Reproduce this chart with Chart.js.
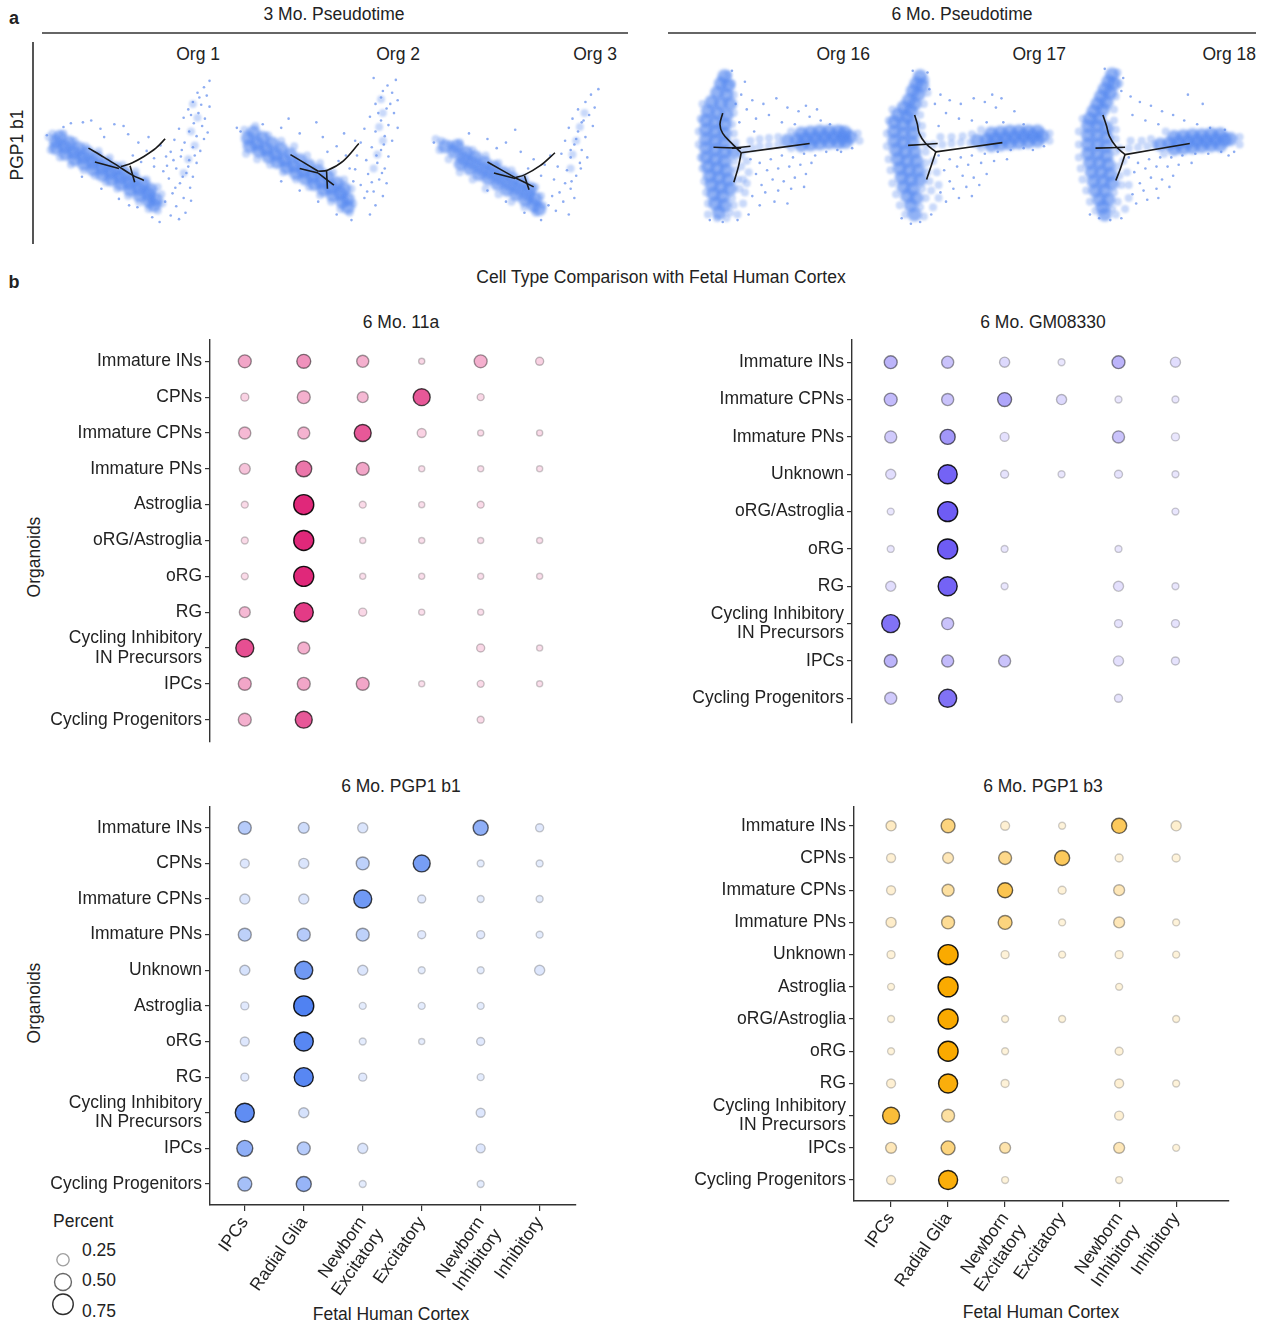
<!DOCTYPE html>
<html lang="en">
<head>
  <meta charset="UTF-8">
  <title>Pseudotime and cell type comparison</title>
  <script src="https://cdn.jsdelivr.net/npm/chart.js"></script>
  <style>
    body { margin: 0; background: #fff; font-family: "Liberation Sans", Arial, sans-serif; color: #222; }
    #page { position: relative; width: 1277px; height: 1327px; overflow: hidden; }
    canvas { position: absolute; }
    .t { position: absolute; font-size: 17.5px; white-space: nowrap; line-height: 1; }
    .c { transform: translate(-50%, -50%); }
    .r { transform: translate(-100%, -50%); }
    .l { transform: translate(0, -50%); }
    .rot { transform: translate(-50%, -50%) rotate(-90deg); }
    .bold { font-weight: bold; font-size: 18px; }
    .rule { position: absolute; background: #666; }
  </style>
</head>
<body>
<div id="page">
  <div class="t c bold" style="left:14px;top:18px">a</div>
  <div class="t c" style="left:334px;top:15px">3 Mo. Pseudotime</div>
  <div class="t c" style="left:962px;top:15px">6 Mo. Pseudotime</div>
  <div class="rule" style="left:42px;top:32px;width:586px;height:2px"></div>
  <div class="rule" style="left:668px;top:32px;width:588px;height:2px"></div>
  <div class="rule" style="left:32px;top:42px;width:1.5px;height:202px;background:#555"></div>
  <div class="t rot" style="left:18px;top:145px">PGP1 b1</div>
  <div class="t r" style="left:220px;top:55px">Org 1</div>
  <div class="t r" style="left:420px;top:55px">Org 2</div>
  <div class="t r" style="left:617px;top:55px">Org 3</div>
  <div class="t r" style="left:870px;top:55px">Org 16</div>
  <div class="t r" style="left:1066px;top:55px">Org 17</div>
  <div class="t r" style="left:1256px;top:55px">Org 18</div>

  <canvas id="org1" width="185" height="180" style="left:38px;top:60px"></canvas>
  <canvas id="org2" width="185" height="180" style="left:228px;top:60px"></canvas>
  <canvas id="org3" width="185" height="180" style="left:425px;top:60px"></canvas>
  <canvas id="org16" width="185" height="180" style="left:688px;top:60px"></canvas>
  <canvas id="org17" width="185" height="180" style="left:878px;top:60px"></canvas>
  <canvas id="org18" width="185" height="180" style="left:1070px;top:60px"></canvas>

  <div class="t c bold" style="left:14px;top:282px">b</div>
  <div class="t c" style="left:661px;top:278px">Cell Type Comparison with Fetal Human Cortex</div>
  <div class="t c" style="left:401px;top:323px">6 Mo. 11a</div>
  <div class="t c" style="left:1043px;top:323px">6 Mo. GM08330</div>
  <div class="t c" style="left:401px;top:787px">6 Mo. PGP1 b1</div>
  <div class="t c" style="left:1043px;top:787px">6 Mo. PGP1 b3</div>
  <div class="t rot" style="left:35px;top:557px">Organoids</div>
  <div class="t rot" style="left:35px;top:1003px">Organoids</div>
  <div class="t c" style="left:391px;top:1315px">Fetal Human Cortex</div>
  <div class="t c" style="left:1041px;top:1313px">Fetal Human Cortex</div>
  <div class="t l" style="left:53px;top:1222px">Percent</div>
  <div class="t l" style="left:82px;top:1251px">0.25</div>
  <div class="t l" style="left:82px;top:1281px">0.50</div>
  <div class="t l" style="left:82px;top:1312px">0.75</div>

  <!-- canvases are a little taller than the plot area: the y axis keeps room for half a label above and below -->
  <canvas id="dot11a" width="587" height="427" style="left:0px;top:327px"></canvas>
  <canvas id="dotGM" width="581" height="408" style="left:640px;top:327px"></canvas>
  <canvas id="dotB1" width="587" height="506" style="left:0px;top:794px"></canvas>
  <canvas id="dotB3" width="600" height="502" style="left:640px;top:794px"></canvas>
  <canvas id="sizeLegend" width="40" height="90" style="left:43px;top:1237px"></canvas>
</div>

<script>
// ---- panel a: cell embeddings per organoid (dense core / edge / sparse cells) and trajectory branches
const org1Core = [[12,81],[22,87],[32,93],[42,98],[52,104],[62,110],[72,115],[82,120],[92,126],[102,132],[112,138],[120,144],
  [16,76],[26,82],[36,88],[46,93],[56,99],[66,105],[76,110],[86,115],[96,121],[106,127],[114,133],
  [12,88],[22,94],[32,100],[42,105],[52,111],[62,117],[72,122],[82,127],[92,133],[102,139],[112,145],[118,150]];
const org1Halo = [[4,76],[8,72],[20,72],[32,80],[44,86],[58,91],[70,98],[84,106],[98,113],[110,122],[122,130],[126,138],
  [6,90],[16,98],[28,106],[42,112],[54,118],[66,125],[78,132],[90,140],[102,147],[112,154],[122,156],[127,148],
  [160,40],[165,55],[158,70],[162,85],[155,100],[150,115]];
const org1Sparse = [[178,15],[172,22],[165,28],[175,31],[160,38],[169,41],[178,43],[155,46],[166,50],[173,56],[150,55],[161,61],
  [170,64],[145,67],[156,70],[164,75],[176,71],[140,79],[151,82],[160,87],[168,91],[136,92],[147,97],[156,101],[164,104],
  [132,107],[142,110],[153,115],[160,119],[134,121],[146,126],[157,131],[138,137],[150,142],[142,151],[152,158],[145,165],
  [136,161],[130,146],[128,113],[20,65],[41,60],[60,67],[75,62],[90,73],[101,82],[110,91],[118,99],[125,85],[112,76],[95,96],
  [131,97],[85,64],[50,58],[28,61],[64,76],[104,103],[118,108],[2,74],[40,119],[61,132],[80,143],[100,152],[116,163],[124,168],
  [91,150],[167,33],[158,52],[172,78],[148,90],[162,96],[139,101],[155,108],[149,119],[141,131],[158,145]];
const org1Branches = [
  [[47,88],[64,98],[80,108]],
  [[54,103],[80,110]],
  [[80,108],[94,117],[107,123]],
  [[82,108],[94,104],[107,97],[120,88],[130,78]],
  [[92,107],[97,125]]
];

const org2Core = [[14,77],[24,83],[34,89],[44,95],[54,101],[64,107],[74,113],[84,119],[94,125],[104,131],[114,137],[122,143],
  [20,71],[30,77],[40,83],[50,89],[60,95],[70,101],[80,107],[90,113],[100,119],[110,126],[118,132],
  [16,86],[26,91],[36,97],[46,103],[56,109],[66,115],[76,121],[86,127],[96,133],[106,139],[116,146],[122,152]];
const org2Halo = [[10,68],[22,64],[36,74],[50,80],[64,86],[78,96],[92,104],[106,114],[118,122],[126,132],
  [12,94],[24,100],[38,106],[52,114],[66,122],[80,130],[92,139],[104,146],[114,154],[124,158],[128,148],
  [158,35],[160,50],[156,65],[160,80],[154,95],[150,110]];
const org2Sparse = [[174,14],[165,20],[150,12],[170,28],[158,33],[176,36],[152,40],[164,45],[172,50],[146,54],[158,58],[166,63],
  [176,66],[140,67],[152,70],[162,75],[170,80],[136,82],[148,87],[158,90],[166,97],[132,96],[142,101],[154,104],[162,110],
  [130,111],[144,116],[156,122],[136,128],[150,135],[140,142],[152,150],[146,160],[160,140],[164,126],[128,124],
  [30,62],[50,66],[70,72],[95,76],[110,86],[120,96],[112,102],[124,110],[88,60],[58,56],[130,80],[100,92],[118,72],[2,66],[6,70],
  [50,124],[70,134],[90,146],[110,160],[126,166],[160,26],[168,40],[155,50],[161,84],[153,96],[159,115],[148,125],[143,135]];
const org2Branches = [
  [[90,113],[100,112],[117,102],[134,83]],
  [[60,95],[90,113]],
  [[70,110],[90,115]],
  [[90,115],[107,128]],
  [[99,112],[100,132]]
];

const org3Core = [[14,86],[24,92],[34,99],[44,104],[54,110],[64,115],[74,121],[84,127],[94,132],[104,138],[112,143],
  [27,86],[37,93],[47,98],[57,104],[67,109],[77,115],[87,121],[97,126],[106,132],
  [31,105],[41,110],[51,116],[61,121],[71,127],[81,133],[91,138],[101,144],[110,150],[116,154]];
const org3Halo = [[4,78],[10,80],[20,84],[30,82],[44,90],[58,96],[72,104],[86,112],[100,120],[112,130],[118,140],[120,150],
  [112,158],[100,152],[86,146],[72,138],[58,132],[44,122],[30,114],[18,100],[8,90],
  [165,50],[160,65],[156,80],[152,95],[150,110]];
const org3Sparse = [[180,24],[172,30],[166,38],[176,44],[158,46],[170,52],[152,56],[162,60],[174,64],[148,66],[158,70],[166,76],
  [144,80],[154,84],[162,90],[140,94],[150,98],[160,104],[136,108],[146,112],[156,118],[132,122],[144,126],[138,136],[150,132],
  [130,140],[142,146],[134,156],[148,160],[126,150],[154,142],[168,98],[40,72],[60,78],[80,82],[96,92],[110,100],[122,106],
  [104,110],[118,118],[90,68],[70,88],[128,96],[2,82],[60,134],[80,146],[100,158],[118,166],[164,58],[156,78],[150,90],
  [161,110],[151,124]];
const org3Branches = [
  [[90,120],[100,117],[117,107],[133,93]],
  [[60,103],[90,120]],
  [[67,115],[90,121]],
  [[90,120],[110,130]],
  [[100,118],[105,133]]
];

const org16Core = [[32,10],[28,18],[36,20],[24,28],[34,30],[18,38],[28,40],[38,40],[14,48],[24,50],[34,52],[12,58],[22,60],
  [32,62],[12,68],[22,70],[32,72],[12,78],[22,80],[32,82],[12,88],[22,90],[32,92],[42,92],[12,98],[22,100],[32,102],
  [14,108],[24,110],[34,112],[16,118],[26,120],[36,122],[18,128],[28,130],[38,132],[20,138],
  [30,140],[22,148],[32,150],[26,158],
  [100,80],[110,79],[120,78],[130,77],[140,76],[150,76],[160,76],[168,76],[115,72],[125,71],[135,70],[145,70],[155,70],[162,71],
  [115,85],[125,84],[135,83],[145,82],[155,82],[163,81]];
const org16Halo = [[36,8],[40,18],[42,30],[42,50],[40,62],[8,40],[6,56],[4,70],[4,84],[6,98],[8,110],[10,124],[12,136],[14,148],
  [14,160],[24,164],[34,164],[46,160],[52,148],[54,136],[52,122],[50,108],[50,96],[54,90],[62,88],[70,86],[80,85],[90,84],
  [60,80],[70,78],[80,77],[90,76],[176,72],[178,80],[104,88],[104,70],[42,72],[44,82],[56,102],[58,114],[56,126],
  [42,102],[44,112],[46,122],[48,132],[40,142],[42,150],[38,158]];
const org16Sparse = [[50,30],[62,36],[74,40],[88,34],[100,44],[112,48],[124,54],[136,58],[80,52],[66,56],[94,60],[108,62],[146,62],
  [60,100],[70,104],[82,100],[94,96],[106,98],[118,94],[130,96],[142,92],[154,90],[66,116],[78,112],[90,110],[102,108],[114,106],
  [126,104],[72,128],[84,122],[96,124],[108,120],[120,116],[62,140],[76,136],[90,134],[104,132],[118,130],[70,150],[86,146],
  [100,148],[58,160],[46,166],[30,168],[16,166],[40,4],[54,16],[56,46],[44,40],[120,42],[132,46],[170,88],[158,92],[48,60],[64,70]];
const org16Branches = [
  [[30,50],[27,62],[30,72],[39,82],[50,93]],
  [[20,87],[50,88]],
  [[50,93],[124,83]],
  [[50,93],[47,108],[42,125]],
  [[40,88],[60,86]]
];

const org17Core = [[38,10],[34,18],[40,20],[30,26],[36,30],[26,36],[32,40],[20,44],[28,48],[14,52],[24,54],[10,60],[20,62],
  [30,62],[10,70],[20,72],[30,72],[10,80],[20,82],[30,82],[12,90],[22,92],[32,92],[14,100],[24,102],[34,102],[16,110],
  [26,112],[36,112],[18,120],[28,122],[38,122],[20,130],[30,132],[24,140],[34,142],
  [28,150],[32,160],
  [100,80],[110,79],[120,78],[130,77],[140,76],[150,75],[160,75],[170,75],[115,72],[125,71],[135,70],[145,70],[155,70],[165,70],
  [115,85],[125,84],[135,83],[145,82],[155,81],[165,80]];
const org17Halo = [[44,14],[46,28],[42,40],[38,52],[40,64],[4,58],[2,72],[2,86],[4,100],[6,112],[8,126],[12,138],[16,150],
  [22,160],[42,162],[52,152],[58,142],[58,128],[56,114],[52,102],[44,92],[44,84],[52,84],[62,84],[72,83],[82,82],[92,82],
  [60,76],[72,76],[84,75],[94,73],[178,72],[178,80],[104,88],[104,68],[40,74],[8,46],
  [44,104],[46,114],[48,124],[40,132],[50,134],[44,142],[38,152]];
const org17Sparse = [[48,24],[60,30],[70,36],[82,40],[96,34],[108,38],[120,44],[140,48],[66,50],[80,56],[94,58],[110,60],[128,60],
  [150,62],[58,96],[70,100],[82,98],[94,96],[108,94],[122,92],[136,90],[150,88],[64,112],[78,108],[90,106],[104,104],[118,102],
  [132,100],[70,124],[84,118],[96,120],[110,116],[60,136],[74,132],[88,130],[102,128],[66,146],[80,142],[94,140],[50,160],
  [38,168],[28,170],[18,164],[30,4],[46,6],[116,30],[126,34],[160,90],[172,86],[54,40],[58,64]];
const org17Branches = [
  [[32,52],[35,62],[37,72],[44,83],[55,92]],
  [[25,85],[57,83]],
  [[55,92],[127,82]],
  [[55,92],[50,107],[45,122]]
];

const org18Core = [[38,8],[34,16],[40,18],[30,24],[36,28],[26,32],[32,38],[22,40],[28,46],[18,48],[14,56],[24,56],[12,64],
  [22,64],[32,66],[12,74],[22,74],[32,76],[12,84],[22,84],[32,86],[12,94],[22,94],[32,96],[14,104],[24,104],[34,106],
  [16,114],[26,114],[36,116],[18,124],[28,124],[38,126],[20,134],[30,134],[24,144],[34,144],
  [28,152],[30,160],
  [90,84],[100,83],[110,82],[120,81],[130,80],[140,80],[150,79],[160,79],[166,78],[105,76],[115,75],[125,74],[135,74],[145,73],
  [155,73],[105,89],[115,88],[125,87],[135,86],[145,85],[155,85]];
const org18Halo = [[44,6],[46,18],[42,32],[40,46],[40,58],[6,56],[2,70],[2,84],[2,98],[4,110],[6,122],[10,134],[14,146],[20,156],
  [42,160],[52,154],[56,142],[56,128],[54,114],[50,102],[42,92],[46,88],[56,88],[66,87],[76,86],[84,84],[58,80],[70,80],[80,78],
  [176,76],[176,84],[94,94],[96,70],[42,78],[42,68],
  [44,108],[46,118],[48,128],[40,136],[44,146],[38,154]];
const org18Sparse = [[48,26],[58,32],[68,38],[80,42],[92,48],[104,52],[116,58],[130,62],[144,66],[60,52],[74,58],[88,62],[160,68],
  [56,98],[66,104],[78,100],[90,98],[102,98],[114,96],[128,94],[142,94],[156,92],[62,114],[74,110],[86,108],[98,108],[110,106],
  [124,104],[68,126],[80,120],[92,122],[104,118],[60,138],[72,134],[86,132],[100,130],[64,148],[76,144],[88,142],[48,164],
  [36,166],[24,164],[14,160],[30,2],[50,12],[120,30],[136,40],[170,92],[164,96]];
const org18Branches = [
  [[28,52],[32,64],[35,75],[42,86],[52,95]],
  [[20,88],[52,87]],
  [[52,95],[122,83]],
  [[52,95],[47,110],[42,123]]
];

// ---- panel b: dot plots (percent = dot size, score = opacity)
const fetalTypes = ['IPCs', 'Radial Glia', ['Newborn', 'Excitatory'], 'Excitatory', ['Newborn', 'Inhibitory'], 'Inhibitory'];
const ciip = ['Cycling Inhibitory', 'IN Precursors'];

const rows11a = ['Immature INs', 'CPNs', 'Immature CPNs', 'Immature PNs', 'Astroglia', 'oRG/Astroglia', 'oRG', 'RG', ciip, 'IPCs', 'Cycling Progenitors'];
const pct11a = [
  [0.28, 0.33, 0.24, 0.04, 0.28, 0.09],
  [0.09, 0.28, 0.19, 0.50, 0.06, null],
  [0.24, 0.24, 0.50, 0.12, 0.04, 0.04],
  [0.19, 0.44, 0.28, 0.04, 0.04, 0.04],
  [0.06, 0.71, 0.06, 0.04, 0.06, null],
  [0.06, 0.71, 0.04, 0.04, 0.04, 0.04],
  [0.06, 0.71, 0.04, 0.04, 0.04, 0.04],
  [0.19, 0.64, 0.09, 0.04, 0.04, null],
  [0.57, 0.24, null, null, 0.09, 0.04],
  [0.28, 0.28, 0.28, 0.04, 0.06, 0.04],
  [0.28, 0.50, null, null, 0.06, null]
];
const score11a = [
  [0.35, 0.45, 0.30, 0.10, 0.30, 0.12],
  [0.12, 0.30, 0.25, 0.75, 0.10, null],
  [0.25, 0.28, 0.75, 0.12, 0.08, 0.08],
  [0.20, 0.60, 0.35, 0.06, 0.06, 0.06],
  [0.08, 1.00, 0.08, 0.06, 0.08, null],
  [0.08, 1.00, 0.06, 0.06, 0.06, 0.06],
  [0.08, 1.00, 0.06, 0.06, 0.06, 0.06],
  [0.25, 0.90, 0.10, 0.06, 0.06, null],
  [0.80, 0.30, null, null, 0.10, 0.06],
  [0.35, 0.35, 0.35, 0.06, 0.08, 0.06],
  [0.30, 0.75, null, null, 0.08, null]
];

const rowsGM = ['Immature INs', 'Immature CPNs', 'Immature PNs', 'Unknown', 'oRG/Astroglia', 'oRG', 'RG', ciip, 'IPCs', 'Cycling Progenitors'];
const pctGM = [
  [0.28, 0.24, 0.16, 0.06, 0.28, 0.16],
  [0.28, 0.24, 0.33, 0.16, 0.06, 0.06],
  [0.24, 0.39, 0.12, null, 0.24, 0.09],
  [0.16, 0.64, 0.09, 0.06, 0.09, 0.06],
  [0.06, 0.71, null, null, null, 0.06],
  [0.06, 0.71, 0.06, null, 0.06, null],
  [0.16, 0.64, 0.06, null, 0.16, 0.06],
  [0.57, 0.24, null, null, 0.09, 0.09],
  [0.28, 0.24, 0.24, null, 0.16, 0.09],
  [0.24, 0.57, null, null, 0.09, null]
];
const scoreGM = [
  [0.40, 0.30, 0.15, 0.06, 0.40, 0.12],
  [0.35, 0.30, 0.50, 0.15, 0.06, 0.06],
  [0.25, 0.60, 0.10, null, 0.30, 0.06],
  [0.12, 0.95, 0.08, 0.06, 0.08, 0.06],
  [0.06, 1.00, null, null, null, 0.06],
  [0.06, 1.00, 0.06, null, 0.06, null],
  [0.12, 0.95, 0.06, null, 0.10, 0.06],
  [0.85, 0.30, null, null, 0.08, 0.08],
  [0.40, 0.35, 0.30, null, 0.10, 0.08],
  [0.25, 0.85, null, null, 0.08, null]
];

const rowsB1 = ['Immature INs', 'CPNs', 'Immature CPNs', 'Immature PNs', 'Unknown', 'Astroglia', 'oRG', 'RG', ciip, 'IPCs', 'Cycling Progenitors'];
const pctB1 = [
  [0.28, 0.19, 0.16, null, 0.39, 0.09],
  [0.12, 0.16, 0.28, 0.50, 0.06, 0.06],
  [0.16, 0.16, 0.57, 0.09, 0.06, 0.06],
  [0.28, 0.28, 0.28, 0.09, 0.09, 0.06],
  [0.16, 0.57, 0.16, 0.06, 0.06, 0.16],
  [0.09, 0.71, 0.06, 0.06, 0.06, null],
  [0.12, 0.64, 0.06, 0.04, 0.09, null],
  [0.09, 0.64, 0.09, null, 0.06, null],
  [0.64, 0.16, null, null, 0.12, null],
  [0.44, 0.28, 0.16, null, 0.12, null],
  [0.33, 0.39, 0.06, null, 0.06, null]
];
const scoreB1 = [
  [0.35, 0.20, 0.12, null, 0.60, 0.08],
  [0.10, 0.12, 0.30, 0.75, 0.06, 0.06],
  [0.12, 0.12, 0.80, 0.08, 0.06, 0.06],
  [0.30, 0.35, 0.30, 0.08, 0.08, 0.06],
  [0.15, 0.80, 0.12, 0.06, 0.06, 0.10],
  [0.08, 1.00, 0.06, 0.06, 0.06, null],
  [0.10, 0.95, 0.06, 0.05, 0.08, null],
  [0.08, 0.95, 0.08, null, 0.06, null],
  [0.90, 0.15, null, null, 0.10, null],
  [0.60, 0.35, 0.12, null, 0.10, null],
  [0.45, 0.55, 0.06, null, 0.06, null]
];

const rowsB3 = ['Immature INs', 'CPNs', 'Immature CPNs', 'Immature PNs', 'Unknown', 'Astroglia', 'oRG/Astroglia', 'oRG', 'RG', ciip, 'IPCs', 'Cycling Progenitors'];
const pctB3 = [
  [0.16, 0.33, 0.12, 0.06, 0.39, 0.16],
  [0.12, 0.19, 0.28, 0.39, 0.09, 0.09],
  [0.12, 0.24, 0.39, 0.09, 0.19, null],
  [0.16, 0.28, 0.33, 0.06, 0.19, 0.06],
  [0.09, 0.71, 0.09, 0.06, 0.09, 0.06],
  [0.06, 0.71, null, null, 0.06, null],
  [0.06, 0.71, 0.06, 0.06, null, 0.06],
  [0.06, 0.71, 0.06, null, 0.09, null],
  [0.12, 0.64, 0.09, null, 0.12, 0.06],
  [0.50, 0.28, null, null, 0.12, null],
  [0.19, 0.33, 0.19, null, 0.19, 0.06],
  [0.12, 0.64, 0.06, null, 0.06, null]
];
const scoreB3 = [
  [0.15, 0.45, 0.08, 0.05, 0.60, 0.10],
  [0.08, 0.20, 0.40, 0.60, 0.06, 0.05],
  [0.08, 0.30, 0.65, 0.06, 0.20, null],
  [0.12, 0.35, 0.45, 0.05, 0.20, 0.05],
  [0.06, 1.00, 0.06, 0.05, 0.06, 0.05],
  [0.05, 1.00, null, null, 0.05, null],
  [0.05, 1.00, 0.05, 0.05, null, 0.05],
  [0.05, 1.00, 0.05, null, 0.06, null],
  [0.08, 0.95, 0.06, null, 0.08, 0.05],
  [0.75, 0.30, null, null, 0.08, null],
  [0.20, 0.45, 0.25, null, 0.20, 0.05],
  [0.08, 0.95, 0.05, null, 0.05, null]
];

const legendPct = [0.25, 0.50, 0.75];

Chart.defaults.font.family = '"Liberation Sans", Arial, sans-serif';
Chart.defaults.font.size = 17.5;
Chart.defaults.color = '#222';

const baseOpts = {
  responsive: false,
  animation: false,
  events: [],
  layout: { padding: 0 },
  plugins: { legend: { display: false }, tooltip: { enabled: false } }
};

// soften the dense cell clouds a little so they read as many overlapping cells
const softCells = {
  id: 'softCells',
  beforeDatasetDraw(chart, args) {
    const blur = args.meta._dataset.blur;
    if (blur) chart.ctx.filter = 'blur(' + blur + 'px)';
  },
  afterDatasetDraw(chart) { chart.ctx.filter = 'none'; }
};

function scatterPanel(id, core, halo, sparse, branches) {
  // lower order is drawn on top, so the trajectory stays above the cells
  const datasets = branches.map(b => ({
    type: 'line', order: 0, data: b, borderColor: '#1a1a1a', borderWidth: 1.6,
    pointRadius: 0, tension: 0.35, fill: false, clip: false
  }));
  datasets.push(
    { order: 1, data: core, blur: 1.8, pointRadius: 7, pointBorderWidth: 0, pointBackgroundColor: 'rgba(86,136,240,0.65)', clip: false },
    { order: 2, data: halo, blur: 1.2, pointRadius: 4, pointBorderWidth: 0, pointBackgroundColor: 'rgba(100,146,240,0.35)', clip: false },
    { order: 3, data: sparse, pointRadius: 1.3, pointBorderWidth: 0, pointBackgroundColor: 'rgba(104,146,238,0.75)', clip: false }
  );
  new Chart(document.getElementById(id), {
    type: 'scatter',
    data: { datasets },
    plugins: [softCells],
    options: Object.assign({}, baseOpts, {
      scales: {
        x: { type: 'linear', min: 0, max: 185, display: false },
        y: { type: 'linear', min: 0, max: 180, reverse: true, display: false }
      }
    })
  });
}

scatterPanel('org1', org1Core, org1Halo, org1Sparse, org1Branches);
scatterPanel('org2', org2Core, org2Halo, org2Sparse, org2Branches);
scatterPanel('org3', org3Core, org3Halo, org3Sparse, org3Branches);
scatterPanel('org16', org16Core, org16Halo, org16Sparse, org16Branches);
scatterPanel('org17', org17Core, org17Halo, org17Sparse, org17Branches);
scatterPanel('org18', org18Core, org18Halo, org18Sparse, org18Branches);

function sizeOf(p) { return Math.sqrt(4 + 135 * p); }

function dotPlot(id, rows, pct, score, rgb, box) {
  const points = [];
  rows.forEach((_, r) => fetalTypes.forEach((_, c) => {
    if (pct[r][c] != null) points.push({ x: c, y: r, p: pct[r][c], s: score[r][c] });
  }));
  new Chart(document.getElementById(id), {
    type: 'scatter',
    data: {
      datasets: [{
        data: points,
        clip: false,
        pointBorderWidth: 1.4,
        pointRadius: ctx => ctx.raw ? sizeOf(ctx.raw.p) : 3,
        pointBackgroundColor: ctx => 'rgba(' + rgb + ',' + (ctx.raw ? 0.1 + 0.9 * ctx.raw.s : 1) + ')',
        pointBorderColor: ctx => 'rgba(0,0,0,' + (ctx.raw ? 0.15 + 0.75 * ctx.raw.s : 1) + ')'
      }]
    },
    options: Object.assign({}, baseOpts, {
      scales: {
        x: {
          type: 'linear', min: box.xMin, max: box.xMax, display: box.showX,
          afterBuildTicks: s => { s.ticks = fetalTypes.map((_, i) => ({ value: i })); },
          afterFit: s => { if (box.showX) s.height = 95; },
          grid: { drawOnChartArea: false, tickLength: 6, color: '#333', lineWidth: 1.2 },
          border: { color: '#333', width: 1.4 },
          ticks: { autoSkip: false, minRotation: 55, maxRotation: 55, padding: 2, color: '#222',
                   callback: v => fetalTypes[v] }
        },
        y: {
          type: 'linear', reverse: true, min: box.yMin, max: rows.length - 1 + box.yPad,
          afterBuildTicks: s => { s.ticks = rows.map((_, i) => ({ value: i })); },
          afterFit: s => { s.width = box.axisW; },
          grid: { drawOnChartArea: false, tickLength: 5, color: '#333', lineWidth: 1.2 },
          border: { color: '#333', width: 1.4 },
          ticks: { autoSkip: false, padding: 3, color: '#222', font: { lineHeight: 1.12 },
                   callback: v => rows[v] }
        }
      }
    })
  });
}

dotPlot('dot11a', rows11a, pct11a, score11a, '224,40,122',
  { axisW: 210, xMin: -0.59, xMax: 5.61, yMin: -0.6, yPad: 0.6, showX: false });
dotPlot('dotGM', rowsGM, pctGM, scoreGM, '110,92,245',
  { axisW: 212, xMin: -0.68, xMax: 5.6, yMin: -0.6, yPad: 0.64, showX: false });
dotPlot('dotB1', rowsB1, pctB1, scoreB1, '80,130,242',
  { axisW: 210, xMin: -0.59, xMax: 5.61, yMin: -0.59, yPad: 0.59, showX: true });
dotPlot('dotB3', rowsB3, pctB3, scoreB3, '250,170,0',
  { axisW: 214, xMin: -0.65, xMax: 5.92, yMin: -0.59, yPad: 0.65, showX: true });

// size legend
new Chart(document.getElementById('sizeLegend'), {
  type: 'scatter',
  data: {
    datasets: [{
      data: legendPct.map((p, i) => ({ x: 0, y: i, p })),
      clip: false,
      pointBorderWidth: 1.4,
      pointBackgroundColor: 'rgba(255,255,255,0)',
      pointRadius: ctx => ctx.raw ? sizeOf(ctx.raw.p) : 3,
      pointBorderColor: ctx => 'rgba(0,0,0,' + (ctx.raw ? 0.15 + 0.9 * ctx.raw.p : 1) + ')'
    }]
  },
  options: Object.assign({}, baseOpts, {
    scales: {
      x: { type: 'linear', min: -1, max: 1, display: false },
      y: { type: 'linear', min: -0.5, max: 2.5, reverse: true, display: false }
    }
  })
});
</script>
</body>
</html>
